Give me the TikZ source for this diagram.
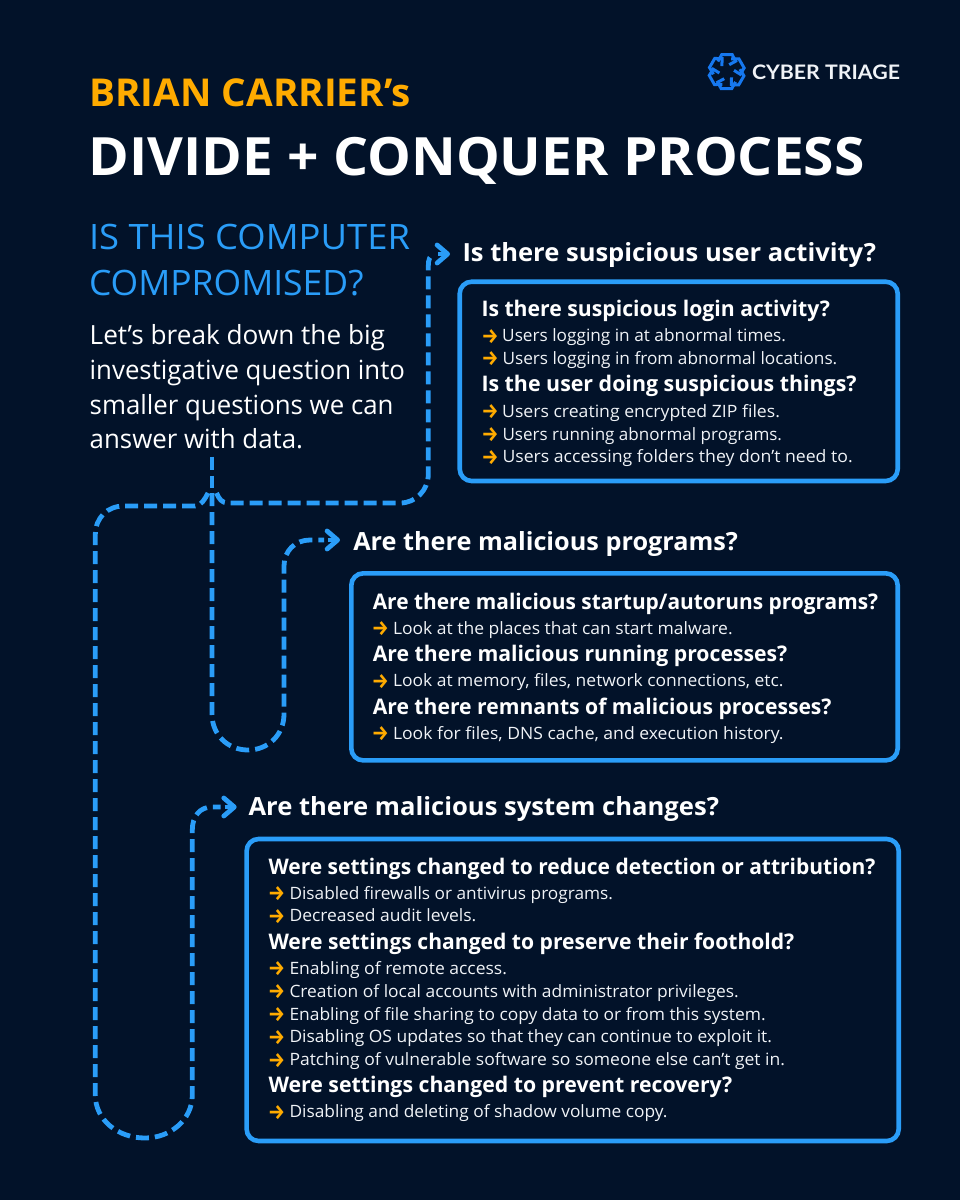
\documentclass[tikz,border=0pt]{standalone}
\usepackage{fontspec}
\usepackage{graphicx}
\setmainfont{Open Sans}
\newfontfamily\logofont{Lato}
\newfontfamily\arrowfont{Fira Sans}
\usetikzlibrary{arrows.meta,calc}
\definecolor{bgc}{RGB}{2,18,41}
\definecolor{flowc}{RGB}{42,157,248}
\definecolor{orangec}{RGB}{255,171,0}
\definecolor{logoc}{RGB}{22,120,240}
\definecolor{softw}{RGB}{240,243,247}
\tikzset{
  txt/.style={anchor=base west,inner sep=0pt,outer sep=0pt},
  titleA/.style={txt,text=orangec,font=\fontsize{38.4}{44}\selectfont\bfseries},
  titleB/.style={txt,text=white,font=\fontsize{52.8}{60}\selectfont\bfseries},
  question/.style={txt,text=flowc,font=\fontsize{35}{40}\selectfont},
  bodytext/.style={txt,text=white,font=\fontsize{26.4}{30}\selectfont},
  headtext/.style={txt,yshift=-0.7pt,text=white,font=\fontsize{25}{30}\selectfont\bfseries},
  subtext/.style={txt,yshift=-0.7pt,text=white,font=\fontsize{21.5}{26}\selectfont\bfseries},
  linetext/.style={txt,text=softw,font=\fontsize{17}{20}\selectfont},
  bullettext/.style={txt,xshift=-2.6pt,yshift=-1.6pt,text=orangec,font=\arrowfont\bfseries\fontsize{21}{24}\selectfont},
  logotext/.style={txt,text=softw,font=\logofont\bfseries\fontsize{20}{24}\selectfont},
  panel/.style={draw=flowc,line width=4.6pt,rounded corners=12pt,fill=bgc,inner sep=0pt,outer sep=0pt},
  flowplain/.style={draw=flowc,line width=4.8pt,dash pattern=on 13pt off 6pt},
  flowtip/.style={draw=flowc,line width=4.8pt,
    -{Straight Barb[length=10.5pt,width=18pt,line width=4.8pt,round]}},
  logoline/.style={draw=logoc,line width=3pt,line join=miter}
}
% name, x, baseline, right edge, style, text
\newcommand{\tline}[6]{%
  \pgfmathsetmacro{\myw}{#4-(#2)}%
  \node[#5] (#1) at (#2,#3) {\resizebox{\myw pt}{\height}{#6}};}
% name, bullet x, text x, baseline, right edge, text
\newcommand{\bline}[6]{%
  \pgfmathsetmacro{\myw}{#5-(#3)}%
  \node[bullettext] (#1b) at (#2,#4) {\resizebox{17pt}{\height}{→}};
  \node[linetext] (#1) at (#3,#4) {\resizebox{\myw pt}{\height}{#6}};}
\begin{document}
\begin{tikzpicture}[x=1pt,y=-1pt]
\path[fill=bgc] (0,0) rectangle (960,1200);
\useasboundingbox (0,0) rectangle (960,1200);

% logo
\begin{scope}[shift={(726.7,71.7)}]
\foreach \a in {0,60,...,300}{
  \draw[logoline,rotate=\a] (-8.8,-10.2) -- (-5,-17) -- (5.5,-17) -- (9,-10.5) -- (2.5,-7);
}
\end{scope}
\tline{logo}{752}{79}{900}{logotext}{CYBER TRIAGE}

% titles
\tline{t1}{89.5}{106.7}{410.6}{titleA}{BRIAN CARRIER’s}
\tline{t2}{88.5}{175}{864.7}{titleB}{DIVIDE + CONQUER PROCESS}
\tline{q1}{89}{249}{410}{question}{IS THIS COMPUTER}
\tline{q2}{89}{295}{363.5}{question}{COMPROMISED?}
\tline{b1}{89.7}{344}{385}{bodytext}{Let’s break down the big}
\tline{b2}{89.7}{379}{405}{bodytext}{investigative question into}
\tline{b3}{89.7}{414}{393.5}{bodytext}{smaller questions we can}
\tline{b4}{89.7}{448.5}{303}{bodytext}{answer with data.}

% headings
\tline{h1}{462.5}{260.7}{876}{headtext}{Is there suspicious user activity?}
\tline{h2}{353.3}{549.3}{738}{headtext}{Are there malicious programs?}
\tline{h3}{248.5}{815}{719}{headtext}{Are there malicious system changes?}

% panels
\node[panel,minimum width=438pt,minimum height=199.3pt] (p1) at (678.7,381.35) {};
\node[panel,minimum width=546.4pt,minimum height=187.1pt] (p2) at (624.5,666.85) {};
\node[panel,minimum width=652.1pt,minimum height=302pt] (p3) at (572.65,990) {};

% panel 1
\tline{s11}{481.5}{316}{830}{subtext}{Is there suspicious login activity?}
\bline{l11}{484.3}{502.2}{341.7}{786}{Users logging in at abnormal times.}
\bline{l12}{484.3}{502.5}{364}{837.3}{Users logging in from abnormal locations.}
\tline{s12}{481.5}{391}{856.7}{subtext}{Is the user doing suspicious things?}
\bline{l13}{484.3}{502.2}{417.3}{780}{Users creating encrypted ZIP files.}
\bline{l14}{484.3}{502.5}{440}{782}{Users running abnormal programs.}
\bline{l15}{484.3}{502.5}{462.7}{852.7}{Users accessing folders they don’t need to.}

% panel 2
\tline{s21}{372.8}{608.3}{878.2}{subtext}{Are there malicious startup/autoruns programs?}
\bline{l21}{374.5}{393}{634}{732.7}{Look at the places that can start malware.}
\tline{s22}{372.8}{661}{787.3}{subtext}{Are there malicious running processes?}
\bline{l22}{374.5}{393}{686.7}{783.6}{Look at memory, files, network connections, etc.}
\tline{s23}{372.8}{713.3}{831.6}{subtext}{Are there remnants of malicious processes?}
\bline{l23}{374.5}{393}{739.3}{783.6}{Look for files, DNS cache, and execution history.}

% panel 3
\tline{s31}{268.5}{873.3}{875.5}{subtext}{Were settings changed to reduce detection or attribution?}
\bline{l31}{270.8}{289.5}{899.3}{613}{Disabled firewalls or antivirus programs.}
\bline{l32}{270.8}{289.5}{921.7}{476.3}{Decreased audit levels.}
\tline{s32}{268.5}{948.7}{794.3}{subtext}{Were settings changed to preserve their foothold?}
\bline{l33}{270.8}{289.5}{974.3}{507}{Enabling of remote access.}
\bline{l34}{270.8}{289.5}{997}{738.7}{Creation of local accounts with administrator privileges.}
\bline{l35}{270.8}{289.5}{1020}{765.6}{Enabling of file sharing to copy data to or from this system.}
\bline{l36}{270.8}{289.5}{1042.7}{772}{Disabling OS updates so that they can continue to exploit it.}
\bline{l37}{270.8}{289.5}{1065.7}{785}{Patching of vulnerable software so someone else can’t get in.}
\tline{s33}{268.5}{1091.7}{732.3}{subtext}{Were settings changed to prevent recovery?}
\bline{l38}{270.8}{289.5}{1117.7}{667.4}{Disabling and deleting of shadow volume copy.}

% connectors
\coordinate (stem) at (212,456.7);
\coordinate (junction) at (212,488);
\coordinate (tip1) at (450,254);
\coordinate (tip2) at (340,540);
\coordinate (tip3) at (236.7,807);

\draw[flowplain] (stem) -- (junction);
\draw[flowplain] (216.5,493) .. controls (219,499) and (222,503) .. (228,503) -- (400,503)
  .. controls (416,503) and (428.3,490) .. (428.3,474) -- (428.3,266)
  .. controls (428.3,259) and (430,255.5) .. (434,254.5);
\draw[flowtip] ($(tip1)+(-12,0)$) -- (tip1);
\draw[flowplain] (212,493) -- (212,714) .. controls (212,735) and (228,750) .. (248,750)
  .. controls (268,750) and (284,735) .. (284,714) -- (284,566)
  .. controls (284,551) and (295,540) .. (310,540) -- ($(tip2)-(16,0)$);
\draw[flowtip] ($(tip2)+(-12,0)$) -- (tip2);
\draw[flowplain] (208,493) .. controls (205,499) and (201,506) .. (195,506) -- (124,506)
  .. controls (107,506) and (95.3,518) .. (95.3,535) -- (95.3,1095)
  .. controls (95.3,1120) and (118,1138) .. (145,1138)
  .. controls (170,1138) and (192.3,1120) .. (192.3,1095) -- (192.3,830)
  .. controls (192.3,816) and (200,807) .. (212,807) -- ($(tip3)-(16,0)$);
\draw[flowtip] ($(tip3)+(-12,0)$) -- (tip3);
\end{tikzpicture}
\end{document}
